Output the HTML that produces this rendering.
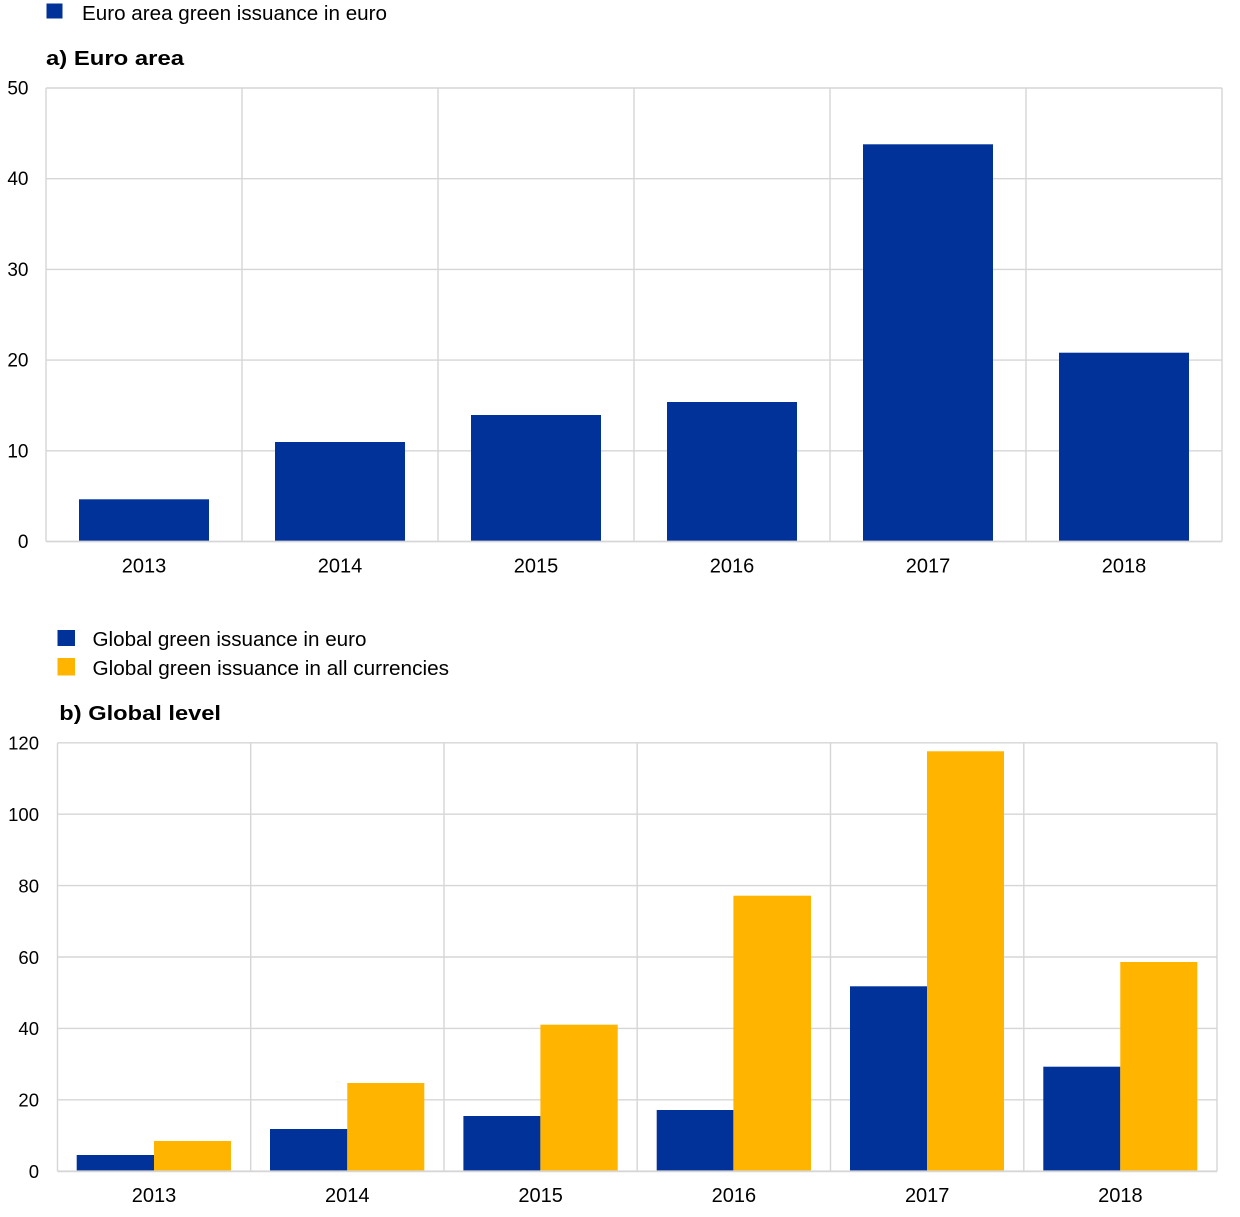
<!DOCTYPE html>
<html>
<head>
<meta charset="utf-8">
<style>
  html,body{margin:0;padding:0;background:#fff;}
  svg{display:block;}
  text{font-family:"Liberation Sans",Arial,sans-serif;fill:#000;}
</style>
</head>
<body>
<svg width="1240" height="1217" viewBox="0 0 1240 1217" xmlns="http://www.w3.org/2000/svg">
  <!-- ===== Top legend ===== -->
  <rect x="46.5" y="3.5" width="16" height="15" fill="#003299"/>
  <text x="82" y="20" font-size="20" textLength="305" lengthAdjust="spacingAndGlyphs">Euro area green issuance in euro</text>

  <!-- Title a -->
  <text x="46" y="65" font-size="20.5" font-weight="bold" textLength="138" lengthAdjust="spacingAndGlyphs">a) Euro area</text>

  <!-- ===== Top chart grid ===== -->
  <g stroke="#d6d6d6" stroke-width="1.4" fill="none">
    <line x1="46" y1="88" x2="1222" y2="88"/>
    <line x1="46" y1="178.7" x2="1222" y2="178.7"/>
    <line x1="46" y1="269.4" x2="1222" y2="269.4"/>
    <line x1="46" y1="360.1" x2="1222" y2="360.1"/>
    <line x1="46" y1="450.8" x2="1222" y2="450.8"/>
    <line x1="46" y1="88" x2="46" y2="541.5"/>
    <line x1="242" y1="88" x2="242" y2="541.5"/>
    <line x1="438" y1="88" x2="438" y2="541.5"/>
    <line x1="634" y1="88" x2="634" y2="541.5"/>
    <line x1="830" y1="88" x2="830" y2="541.5"/>
    <line x1="1026" y1="88" x2="1026" y2="541.5"/>
    <line x1="1222" y1="88" x2="1222" y2="541.5"/>
  </g>

  <!-- Top bars -->
  <g fill="#003299">
    <rect x="79" y="499.3" width="130" height="42.2"/>
    <rect x="275" y="442" width="130" height="99.5"/>
    <rect x="471" y="415" width="130" height="126.5"/>
    <rect x="667" y="402" width="130" height="139.5"/>
    <rect x="863" y="144.3" width="130" height="397.2"/>
    <rect x="1059" y="352.7" width="130" height="188.8"/>
  </g>
  <line x1="46" y1="541.5" x2="1222" y2="541.5" stroke="#d6d6d6" stroke-width="1.8"/>

  <!-- Top y labels -->
  <g font-size="19" text-anchor="end">
    <text x="28.5" y="94.5">50</text>
    <text x="28.5" y="185.2">40</text>
    <text x="28.5" y="275.9">30</text>
    <text x="28.5" y="366.6">20</text>
    <text x="28.5" y="457.5">10</text>
    <text x="28.5" y="548">0</text>
  </g>
  <!-- Top x labels -->
  <g font-size="20" text-anchor="middle">
    <text x="144" y="572.5">2013</text>
    <text x="340" y="572.5">2014</text>
    <text x="536" y="572.5">2015</text>
    <text x="732" y="572.5">2016</text>
    <text x="928" y="572.5">2017</text>
    <text x="1124" y="572.5">2018</text>
  </g>

  <!-- ===== Bottom legend ===== -->
  <rect x="57.5" y="630" width="17.5" height="16" fill="#003299"/>
  <rect x="57.5" y="658" width="17.5" height="17.5" fill="#FFB400"/>
  <text x="92.5" y="646" font-size="20" textLength="274" lengthAdjust="spacingAndGlyphs">Global green issuance in euro</text>
  <text x="92.5" y="675" font-size="20" textLength="356.5" lengthAdjust="spacingAndGlyphs">Global green issuance in all currencies</text>

  <!-- Title b -->
  <text x="59.3" y="720" font-size="20.5" font-weight="bold" textLength="161.7" lengthAdjust="spacingAndGlyphs">b) Global level</text>

  <!-- ===== Bottom chart grid ===== -->
  <g stroke="#d6d6d6" stroke-width="1.4" fill="none">
    <line x1="57.5" y1="742.8" x2="1217" y2="742.8"/>
    <line x1="57.5" y1="814.2" x2="1217" y2="814.2"/>
    <line x1="57.5" y1="885.6" x2="1217" y2="885.6"/>
    <line x1="57.5" y1="957" x2="1217" y2="957"/>
    <line x1="57.5" y1="1028.4" x2="1217" y2="1028.4"/>
    <line x1="57.5" y1="1099.8" x2="1217" y2="1099.8"/>
    <line x1="57.5" y1="742.8" x2="57.5" y2="1171.3"/>
    <line x1="250.7" y1="742.8" x2="250.7" y2="1171.3"/>
    <line x1="444" y1="742.8" x2="444" y2="1171.3"/>
    <line x1="637.2" y1="742.8" x2="637.2" y2="1171.3"/>
    <line x1="830.5" y1="742.8" x2="830.5" y2="1171.3"/>
    <line x1="1023.8" y1="742.8" x2="1023.8" y2="1171.3"/>
    <line x1="1217" y1="742.8" x2="1217" y2="1171.3"/>
  </g>

  <!-- Bottom bars: blue -->
  <g fill="#003299">
    <rect x="76.7" y="1155" width="77.3" height="16.3"/>
    <rect x="270" y="1129" width="77.3" height="42.3"/>
    <rect x="463.4" y="1116" width="77" height="55.3"/>
    <rect x="656.7" y="1110" width="76.7" height="61.3"/>
    <rect x="850" y="986.3" width="77" height="185"/>
    <rect x="1043.3" y="1066.7" width="77" height="104.6"/>
  </g>
  <!-- Bottom bars: yellow -->
  <g fill="#FFB400">
    <rect x="154" y="1141" width="77" height="30.3"/>
    <rect x="347.3" y="1083" width="77" height="88.3"/>
    <rect x="540.4" y="1024.7" width="77.3" height="146.6"/>
    <rect x="733.4" y="895.7" width="77.6" height="275.6"/>
    <rect x="927" y="751.3" width="77" height="420"/>
    <rect x="1120.3" y="962" width="77" height="209.3"/>
  </g>
  <line x1="57.5" y1="1171.3" x2="1217" y2="1171.3" stroke="#d6d6d6" stroke-width="1.8"/>

  <!-- Bottom y labels -->
  <g font-size="18.5" text-anchor="end">
    <text x="39" y="749.7">120</text>
    <text x="39" y="821">100</text>
    <text x="39" y="892.4">80</text>
    <text x="39" y="963.8">60</text>
    <text x="39" y="1035.2">40</text>
    <text x="39" y="1106.6">20</text>
    <text x="39" y="1178">0</text>
  </g>
  <!-- Bottom x labels -->
  <g font-size="20" text-anchor="middle">
    <text x="154" y="1202">2013</text>
    <text x="347.3" y="1202">2014</text>
    <text x="540.6" y="1202">2015</text>
    <text x="733.9" y="1202">2016</text>
    <text x="927.2" y="1202">2017</text>
    <text x="1120.4" y="1202">2018</text>
  </g>
</svg>
</body>
</html>
